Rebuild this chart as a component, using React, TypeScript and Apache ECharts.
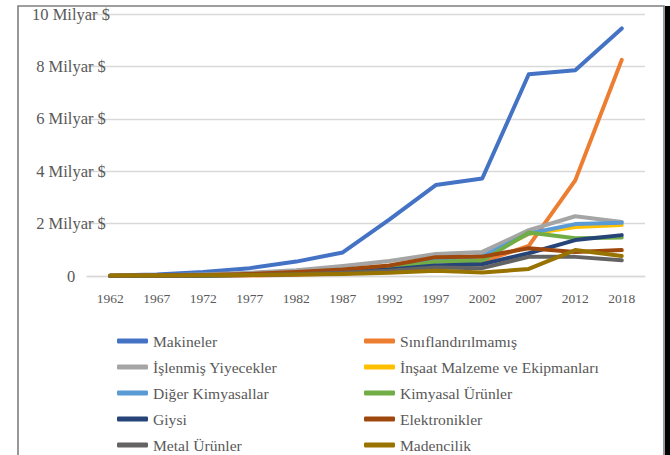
import React, { useEffect, useRef } from "react";
import * as echarts from "echarts";

const years = ["1962", "1967", "1972", "1977", "1982", "1987", "1992", "1997", "2002", "2007", "2012", "2018"];

const seriesNames = [
  "Makineler",
  "Sınıflandırılmamış",
  "İşlenmiş Yiyecekler",
  "İnşaat Malzeme ve Ekipmanları",
  "Diğer Kimyasallar",
  "Kimyasal Ürünler",
  "Giysi",
  "Elektronikler",
  "Metal Ürünler",
  "Madencilik",
];

const colors = ["#4472C4", "#ED7D31", "#A5A5A5", "#FFC000", "#5B9BD5", "#70AD47", "#264478", "#9E480E", "#636363", "#997300"];

// values in billions of $
const makineler = [0.02, 0.06, 0.15, 0.3, 0.55, 0.9, 2.15, 3.47, 3.72, 7.7, 7.85, 9.45];
const siniflandirilmamis = [0, 0, 0.01, 0.02, 0.05, 0.1, 0.2, 0.35, 0.55, 1.15, 3.65, 8.25];
const islenmisYiyecekler = [0.01, 0.03, 0.06, 0.12, 0.22, 0.38, 0.57, 0.84, 0.92, 1.75, 2.28, 2.06];
const insaatMalzeme = [0, 0.01, 0.02, 0.05, 0.1, 0.2, 0.35, 0.6, 0.7, 1.6, 1.87, 1.95];
const digerKimyasallar = [0, 0.01, 0.02, 0.05, 0.1, 0.2, 0.35, 0.65, 0.75, 1.62, 1.98, 2.03];
const kimyasalUrunler = [0, 0.01, 0.02, 0.05, 0.1, 0.18, 0.3, 0.54, 0.58, 1.66, 1.44, 1.47];
const giysi = [0, 0.01, 0.02, 0.04, 0.08, 0.15, 0.25, 0.4, 0.45, 0.87, 1.37, 1.56];
const elektronikler = [0.01, 0.02, 0.04, 0.08, 0.15, 0.25, 0.4, 0.72, 0.74, 1.06, 0.92, 0.99];
const metalUrunler = [0, 0.01, 0.02, 0.04, 0.07, 0.12, 0.2, 0.32, 0.3, 0.73, 0.73, 0.6];
const madencilik = [0.02, 0.02, 0.03, 0.04, 0.06, 0.08, 0.12, 0.2, 0.13, 0.27, 0.99, 0.76];

const allValues = [
  makineler,
  siniflandirilmamis,
  islenmisYiyecekler,
  insaatMalzeme,
  digerKimyasallar,
  kimyasalUrunler,
  giysi,
  elektronikler,
  metalUrunler,
  madencilik,
];

const FONT = "'Liberation Serif', 'Times New Roman', serif";

export default function App() {
  const ref = useRef<HTMLDivElement>(null);

  useEffect(() => {
    if (!ref.current) return;
    const chart = echarts.init(ref.current, undefined, { renderer: "svg" });

    const legendCommon = {
      orient: "vertical" as const,
      top: 332,
      height: 130,
      padding: 0,
      itemWidth: 31,
      itemHeight: 5,
      itemGap: 8,
      icon: "roundRect",
      textStyle: { fontFamily: FONT, fontSize: 15.6, color: "#595959", lineHeight: 18 },
      selectedMode: false,
    };

    chart.setOption({
      animation: false,
      backgroundColor: "#ffffff",
      color: colors,
      grid: { left: 87, right: 25, top: 14, bottom: 179, containLabel: false },
      xAxis: {
        type: "category",
        data: years,
        boundaryGap: true,
        axisLine: { show: true, lineStyle: { color: "#d9d9d9", width: 1.3 } },
        axisTick: { show: false },
        axisLabel: { fontFamily: FONT, fontSize: 13.5, color: "#595959", margin: 15, interval: 0 },
      },
      yAxis: {
        type: "value",
        min: 0,
        max: 10,
        interval: 2,
        axisLine: { show: false },
        axisTick: { show: false },
        splitLine: { lineStyle: { color: "#d9d9d9", width: 1.3 } },
        axisLabel: {
          fontFamily: FONT,
          fontSize: 16.5,
          color: "#595959",
          align: "center",
          margin: 16,
          formatter: (v: number) => (v === 0 ? "0" : `${v} Milyar $`),
        },
      },
      legend: [
        { ...legendCommon, left: 117, data: seriesNames.filter((_, i) => i % 2 === 0) },
        { ...legendCommon, left: 364, data: seriesNames.filter((_, i) => i % 2 === 1) },
      ],
      series: seriesNames.map((name, i) => ({
        name,
        type: "line",
        data: allValues[i],
        showSymbol: false,
        symbol: "none",
        lineStyle: { width: 4, color: colors[i], cap: "round", join: "round" },
        itemStyle: { color: colors[i] },
      })),
      graphic: [
        {
          type: "rect",
          shape: { x: 18, y: 6, width: 646, height: 470 },
          style: { fill: "none", stroke: "#7f7f7f", lineWidth: 1.6 },
          silent: true,
        },
        {
          type: "rect",
          shape: { x: 665, y: 6, width: 5, height: 449 },
          style: { fill: "#000000" },
          silent: true,
        },
      ],
    });

    return () => chart.dispose();
  }, []);

  return (
    <div
      ref={ref}
      style={{ position: "fixed", left: 0, top: 0, width: 670, height: 455, background: "#fff" }}
    />
  );
}
